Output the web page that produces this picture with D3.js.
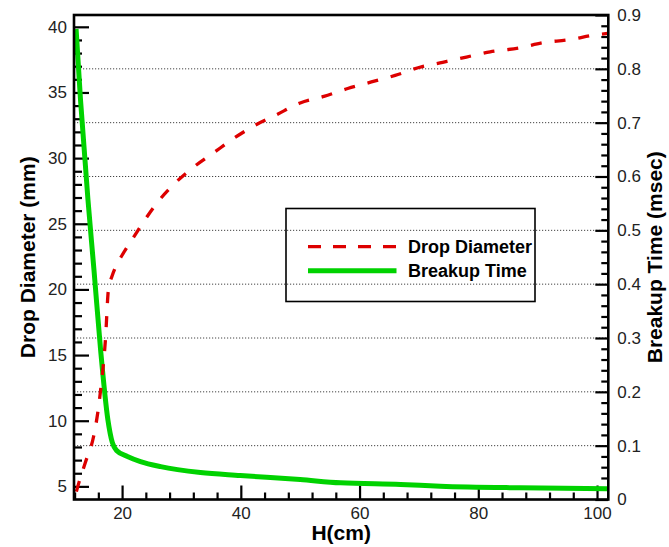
<!DOCTYPE html>
<html>
<head>
<meta charset="utf-8">
<script src="https://cdn.jsdelivr.net/npm/d3@7"></script>
<style>
  html, body { margin: 0; padding: 0; background: #fff; }
  svg { display: block; }
  text { font-family: "Liberation Sans", Arial, sans-serif; }
</style>
</head>
<body>
<script>
// ---- data ----
const dropH = [12.3, 12.8, 13.8, 15.2, 15.9, 16.4, 17.2, 17.7, 18.3, 18.9, 20, 21.4, 23.4, 25.9, 28.7, 32, 35.4, 38.8, 42, 46, 50, 54, 58, 62, 66, 70, 74, 78, 82, 87, 91, 95, 100, 101.8];
const dropD = [4.6, 5.4, 6.8, 8.8, 10.6, 12.4, 16.2, 20.0, 21.0, 21.7, 22.6, 23.6, 25.0, 26.6, 28.0, 29.3, 30.4, 31.5, 32.4, 33.3, 34.2, 34.7, 35.3, 35.8, 36.3, 36.9, 37.3, 37.7, 38.1, 38.4, 38.8, 39.0, 39.4, 39.5];
const timeH = [12.25, 13.0, 14.25, 15.26, 16.38, 17.61, 18.35, 19.07, 20.9, 23.1, 26.5, 33.2, 39.9, 50, 56.8, 66.9, 73.6, 87, 101.8];
const timeT = [0.874, 0.742, 0.557, 0.427, 0.278, 0.148, 0.106, 0.091, 0.080, 0.0705, 0.061, 0.050, 0.0445, 0.037, 0.031, 0.028, 0.0247, 0.0217, 0.0202];
const xTicks = [20, 40, 60, 80, 100];
const leftTicks = [5, 10, 15, 20, 25, 30, 35, 40];
const rightTicks = [0, 0.1, 0.2, 0.3, 0.4, 0.5, 0.6, 0.7, 0.8, 0.9];
const gridValues = [0.1, 0.2, 0.3, 0.4, 0.5, 0.6, 0.7, 0.8];
const seriesNames = ["Drop Diameter", "Breakup Time"];
const xTitle = "H(cm)";
const leftTitle = "Drop Diameter (mm)";
const rightTitle = "Breakup Time (msec)";

// ---- layout ----
const W = 669, H = 547;
const L = 74, R = 608.3, T = 15, B = 499.5;
const red = "#dd0000", green = "#00d200";

const svg = d3.select("body").append("svg").attr("width", W).attr("height", H);

const x = d3.scaleLinear().domain([11.9, 101.9]).range([L, R]);
const yL = d3.scaleLinear().domain([4.0, 40.9]).range([B, T]);
const yR = d3.scaleLinear().domain([0, 0.9]).range([B, T]);

// gridlines
svg.append("g").selectAll("line").data(gridValues).join("line")
  .attr("x1", L).attr("x2", R)
  .attr("y1", d => yR(d)).attr("y2", d => yR(d))
  .attr("stroke", "#444").attr("stroke-width", 1).attr("stroke-dasharray", "1.2,1.8");

// minor ticks
const minorX = d3.range(12, 101, 4).filter(v => v % 20 !== 0);
const minorL = d3.range(5, 41, 1).filter(v => v % 5 !== 0);
const minorR = d3.range(0, 0.901, 0.02).filter(v => Math.abs(v * 10 - Math.round(v * 10)) > 1e-6);

function styleAxis(g) {
  g.select(".domain").remove();
  g.selectAll(".tick line").attr("stroke", "#000").attr("stroke-width", 2.2);
  g.selectAll(".tick text").attr("fill", "#222").style("font-size", "17px")
    .style("font-family", "'Liberation Sans', Arial, sans-serif");
}

svg.append("g").attr("transform", `translate(0,${B})`)
  .call(d3.axisBottom(x).tickValues(minorX).tickFormat("").tickSize(-7)).call(styleAxis);
svg.append("g").attr("transform", `translate(${L},0)`)
  .call(d3.axisLeft(yL).tickValues(minorL).tickFormat("").tickSize(-8)).call(styleAxis);
svg.append("g").attr("transform", `translate(${R},0)`)
  .call(d3.axisRight(yR).tickValues(minorR).tickFormat("").tickSize(-7)).call(styleAxis);

// major axes
svg.append("g").attr("transform", `translate(0,${B})`)
  .call(d3.axisBottom(x).tickValues(xTicks).tickFormat(d3.format("d")).tickSize(-14).tickPadding(7))
  .call(styleAxis);
svg.append("g").attr("transform", `translate(${L},0)`)
  .call(d3.axisLeft(yL).tickValues(leftTicks).tickFormat(d3.format("d")).tickSize(-15).tickPadding(7))
  .call(styleAxis);
svg.append("g").attr("transform", `translate(${R},0)`)
  .call(d3.axisRight(yR).tickValues(rightTicks).tickFormat(d => d === 0 ? "0" : d3.format(".1f")(d)).tickSize(-13).tickPadding(9))
  .call(styleAxis);

// clip
svg.append("clipPath").attr("id", "clip").append("rect")
  .attr("x", L).attr("y", T).attr("width", R - L).attr("height", B - T);

// curves
const dropData = dropH.map((h, i) => [h, dropD[i]]);
const timeData = timeH.map((h, i) => [h, timeT[i]]);

const plot = svg.append("g").attr("clip-path", "url(#clip)");
plot.append("path").datum(timeData)
  .attr("d", d3.line().x(d => x(d[0])).y(d => yR(d[1])).curve(d3.curveMonotoneX))
  .attr("fill", "none").attr("stroke", green).attr("stroke-width", 5);
plot.append("path").datum(dropData)
  .attr("d", d3.line().x(d => x(d[0])).y(d => yL(d[1])).curve(d3.curveMonotoneX))
  .attr("fill", "none").attr("stroke", red).attr("stroke-width", 3.3)
  .attr("stroke-dasharray", "11,13");

// frame
svg.append("rect").attr("x", L).attr("y", T).attr("width", R - L).attr("height", B - T)
  .attr("fill", "none").attr("stroke", "#000").attr("stroke-width", 2.6);

// titles
svg.append("text").attr("x", (L + R) / 2).attr("y", 540).attr("text-anchor", "middle")
  .style("font-size", "21px").style("font-weight", "bold").attr("fill", "#000").text(xTitle);
svg.append("text").attr("transform", `translate(35,${(T + B) / 2}) rotate(-90)`).attr("text-anchor", "middle")
  .style("font-size", "21px").style("font-weight", "bold").attr("fill", "#000").text(leftTitle);
svg.append("text").attr("transform", `translate(662,${(T + B) / 2}) rotate(-90)`).attr("text-anchor", "middle")
  .style("font-size", "21px").style("font-weight", "bold").attr("fill", "#000").text(rightTitle);

// legend
const lg = svg.append("g");
lg.append("rect").attr("x", 286).attr("y", 208.5).attr("width", 249).attr("height", 93)
  .attr("fill", "none").attr("stroke", "#000").attr("stroke-width", 1.6);
const legendItems = [
  { name: seriesNames[0], color: red, width: 3.3, dash: "13,12", y: 246.7 },
  { name: seriesNames[1], color: green, width: 5, dash: null, y: 270.7 }
];
legendItems.forEach(it => {
  lg.append("line").attr("x1", 308).attr("x2", 396.5).attr("y1", it.y).attr("y2", it.y)
    .attr("stroke", it.color).attr("stroke-width", it.width)
    .attr("stroke-dasharray", it.dash);
  lg.append("text").attr("x", 408).attr("y", it.y).attr("dy", "0.36em")
    .style("font-size", "18px").style("font-weight", "bold").attr("fill", "#000").text(it.name);
});
</script>
</body>
</html>
